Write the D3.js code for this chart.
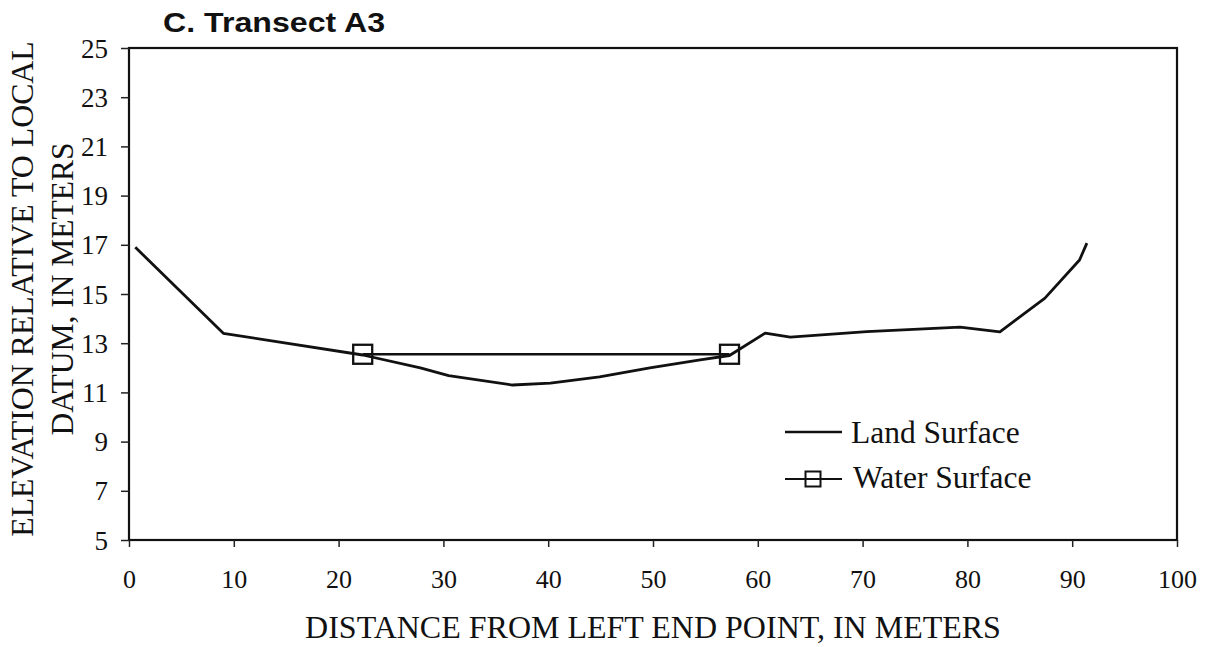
<!DOCTYPE html>
<html>
<head>
<meta charset="utf-8">
<script src="https://cdn.jsdelivr.net/npm/d3@7/dist/d3.min.js"></script>
<style>
  html, body { margin: 0; padding: 0; background: #fff; }
  svg { display: block; }
</style>
</head>
<body>
<svg id="chart" width="1208" height="647"></svg>
<script>
// ---- data ----
const landX = [0.6, 9.0, 22.3, 27.8, 30.5, 36.6, 40.2, 44.9, 49.7, 54.5, 57.3, 60.7, 63.1, 70.4, 79.3, 83.1, 87.4, 90.7, 91.4];
const landY = [16.9, 13.4, 12.52, 12.0, 11.68, 11.3, 11.38, 11.63, 12.0, 12.32, 12.5, 13.41, 13.25, 13.47, 13.65, 13.46, 14.83, 16.38, 17.07];
const waterX = [22.3, 57.3];
const waterY = [12.55, 12.55];
const xTicks = [0, 10, 20, 30, 40, 50, 60, 70, 80, 90, 100];
const yTicks = [5, 7, 9, 11, 13, 15, 17, 19, 21, 23, 25];
const seriesNames = ["Land Surface", "Water Surface"];
const titleText = "C. Transect A3";
const xTitle = "DISTANCE FROM LEFT END POINT, IN METERS";
const yTitle1 = "ELEVATION RELATIVE TO LOCAL";
const yTitle2 = "DATUM, IN METERS";

// ---- layout ----
const L = 129, R = 1177, T = 48, B = 540;
const svg = d3.select("#chart");
const x = d3.scaleLinear().domain([0, 100]).range([L, R]);
const y = d3.scaleLinear().domain([5, 25]).range([B, T]);
const serif = "'Liberation Serif', 'Times New Roman', serif";

// frame
svg.append("rect").attr("x", L).attr("y", T).attr("width", R - L).attr("height", B - T)
  .attr("fill", "none").attr("stroke", "#111").attr("stroke-width", 2.2);

// x axis
const gx = svg.append("g").attr("transform", `translate(0,${B})`)
  .call(d3.axisBottom(x).tickValues(xTicks).tickSize(7).tickSizeOuter(0).tickFormat(d3.format("d")));
gx.select(".domain").remove();
gx.selectAll(".tick line").attr("stroke", "#222").attr("stroke-width", 1.5);
gx.selectAll(".tick text").attr("y", 48).attr("dy", 0)
  .style("font-family", serif).style("font-size", "26px").attr("fill", "#111");

// y axis
const gy = svg.append("g").attr("transform", `translate(${L},0)`)
  .call(d3.axisLeft(y).tickValues(yTicks).tickSize(8).tickSizeOuter(0).tickPadding(13).tickFormat(d3.format("d")));
gy.select(".domain").remove();
gy.selectAll(".tick line").attr("stroke", "#222").attr("stroke-width", 1.5);
gy.selectAll(".tick text").attr("dy", "0.34em")
  .style("font-family", serif).style("font-size", "27px").attr("fill", "#111");

// land line
const land = landX.map((d, i) => [d, landY[i]]);
const water = waterX.map((d, i) => [d, waterY[i]]);
const line = d3.line().x(d => x(d[0])).y(d => y(d[1]));
svg.append("path").datum(land).attr("d", line)
  .attr("fill", "none").attr("stroke", "#111").attr("stroke-width", 2.8).attr("stroke-linejoin", "round");

// water line + markers
svg.append("path").datum(water).attr("d", line)
  .attr("fill", "none").attr("stroke", "#111").attr("stroke-width", 2.3);
const ms = 19;
svg.selectAll("rect.wm").data(water).enter().append("rect").attr("class", "wm")
  .attr("x", d => x(d[0]) - ms / 2).attr("y", d => y(d[1]) - ms / 2)
  .attr("width", ms).attr("height", ms)
  .attr("fill", "none").attr("stroke", "#111").attr("stroke-width", 2.3);

// legend
const lg = svg.append("g");
lg.append("line").attr("x1", 785).attr("x2", 842).attr("y1", 432).attr("y2", 432)
  .attr("stroke", "#111").attr("stroke-width", 2.4);
lg.append("text").attr("x", 851).attr("y", 443).text(seriesNames[0])
  .style("font-family", serif).style("font-size", "31.5px").attr("fill", "#111");
lg.append("line").attr("x1", 785).attr("x2", 842).attr("y1", 479).attr("y2", 479)
  .attr("stroke", "#111").attr("stroke-width", 2.2);
lg.append("rect").attr("x", 813 - 7.5).attr("y", 479 - 7.5).attr("width", 15).attr("height", 15)
  .attr("fill", "none").attr("stroke", "#111").attr("stroke-width", 2);
lg.append("text").attr("x", 853).attr("y", 488).text(seriesNames[1])
  .style("font-family", serif).style("font-size", "31.5px").attr("fill", "#111");

// title
svg.append("text").attr("x", 163).attr("y", 32).text(titleText)
  .attr("textLength", 222).attr("lengthAdjust", "spacingAndGlyphs")
  .style("font-family", "'Liberation Sans', Arial, sans-serif").style("font-weight", "bold")
  .style("font-size", "27px").attr("fill", "#111");

// axis titles
svg.append("text").attr("x", (L + R) / 2).attr("y", 638).attr("text-anchor", "middle").text(xTitle)
  .style("font-family", serif).style("font-size", "32px").attr("fill", "#111");
svg.append("text").attr("transform", "translate(33,289) rotate(-90)").attr("text-anchor", "middle").text(yTitle1)
  .style("font-family", serif).style("font-size", "31.8px").attr("fill", "#111");
svg.append("text").attr("transform", "translate(73,289) rotate(-90)").attr("text-anchor", "middle").text(yTitle2)
  .style("font-family", serif).style("font-size", "31.5px").attr("fill", "#111");
</script>
</body>
</html>
